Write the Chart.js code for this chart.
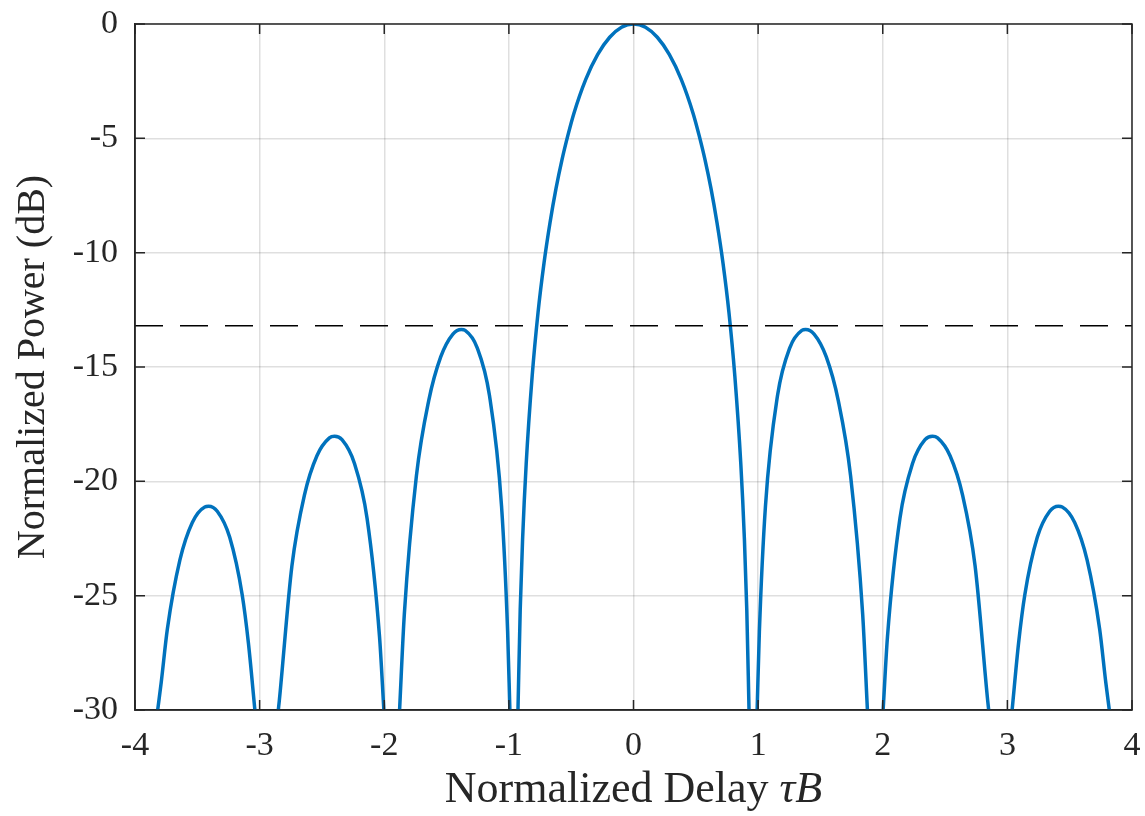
<!DOCTYPE html>
<html>
<head>
<meta charset="utf-8">
<script src="https://cdn.jsdelivr.net/npm/chart.js@4.4.1/dist/chart.umd.min.js"></script>
<style>
  html,body{margin:0;padding:0;background:#fff;}
  #wrap{width:1145px;height:816px;}
</style>
</head>
<body>
<div id="wrap"><canvas id="chart" width="1145" height="816"></canvas></div>
<script>
// delay (tau*B) and normalized power (dB); null = gap below -30 dB
const delay=[
  -3.818,-3.790,-3.740,-3.640,-3.540,-3.440,-3.410,-3.340,-3.240,-3.140,-3.090,-3.038,
  -2.94,
  -2.850,-2.842,-2.741,-2.641,-2.540,-2.440,-2.399,-2.339,-2.239,-2.138,-2.038,-2.003,
  -1.94,
  -1.877,-1.839,-1.742,-1.644,-1.547,-1.449,-1.381,-1.351,-1.254,-1.156,-1.059,-1.010,-0.992,
  -0.96,
  -0.927,-0.909,-0.890,-0.861,-0.813,-0.766,-0.718,-0.670,-0.622,-0.574,-0.526,-0.479,-0.383,-0.287,-0.191,-0.096,
  0,
  0.096,0.191,0.287,0.383,0.479,0.526,0.574,0.622,0.670,0.718,0.766,0.813,0.861,0.890,0.909,0.927,
  0.96,
  0.992,1.010,1.059,1.156,1.254,1.351,1.381,1.449,1.547,1.644,1.742,1.839,1.877,
  1.94,
  2.003,2.038,2.138,2.239,2.339,2.399,2.440,2.540,2.641,2.741,2.842,2.850,
  2.94,
  3.038,3.090,3.140,3.240,3.340,3.410,3.440,3.540,3.640,3.740,3.790,3.818
];
const power=[
  -30,-28.81,-26.45,-23.45,-21.80,-21.12,-21.09,-21.31,-22.45,-24.96,-27.07,-30,
  null,
  -30,-29.59,-23.70,-20.61,-18.88,-18.10,-18.03,-18.18,-19.22,-21.61,-26.79,-30,
  null,
  -30,-25.82,-19.76,-16.49,-14.56,-13.56,-13.36,-13.40,-14.16,-16.24,-21.07,-26.58,-30,
  null,
  -30,-25.61,-22.54,-19.23,-15.39,-12.62,-10.45,-8.69,-7.20,-5.94,-4.86,-3.92,-2.42,-1.33,-0.58,-0.14,
  0,
  -0.14,-0.58,-1.33,-2.42,-3.92,-4.86,-5.94,-7.20,-8.69,-10.45,-12.62,-15.39,-19.23,-22.54,-25.61,-30,
  null,
  -30,-26.58,-21.07,-16.24,-14.16,-13.40,-13.36,-13.56,-14.56,-16.49,-19.76,-25.82,-30,
  null,
  -30,-26.79,-21.61,-19.22,-18.18,-18.03,-18.10,-18.88,-20.61,-23.70,-29.59,-30,
  null,
  -30,-27.07,-24.96,-22.45,-21.31,-21.09,-21.12,-21.80,-23.45,-26.45,-28.81,-30
];
const sidelobeLevel=-13.2;
const xTicks=[-4,-3,-2,-1,0,1,2,3,4];
const yTicks=[-30,-25,-20,-15,-10,-5,0];

const axisColor="#262626";
const serif="'Liberation Serif', 'Times New Roman', serif";

// inward ticks on all four sides, full box, x title with italic tau B
const matlabAxes={
  id:"matlabAxes",
  afterDraw(chart){
    const c=chart.ctx, a=chart.chartArea;
    const xs=chart.scales.x, ys=chart.scales.y;
    c.save();
    c.strokeStyle=axisColor;
    c.lineWidth=1.5;
    c.beginPath();
    xTicks.forEach(v=>{
      const px=xs.getPixelForValue(v);
      c.moveTo(px,a.bottom); c.lineTo(px,a.bottom-10);
      c.moveTo(px,a.top); c.lineTo(px,a.top+10);
    });
    yTicks.forEach(v=>{
      const py=ys.getPixelForValue(v);
      c.moveTo(a.left,py); c.lineTo(a.left+10,py);
      c.moveTo(a.right,py); c.lineTo(a.right-10,py);
    });
    c.stroke();
    c.strokeRect(a.left,a.top,a.right-a.left,a.bottom-a.top);

    const part1="Normalized Delay ", part2="τB";
    const f1="44px "+serif, f2="italic 44px "+serif;
    c.font=f1; const w1=c.measureText(part1).width;
    c.font=f2; const w2=c.measureText(part2).width;
    let x0=(a.left+a.right)/2-(w1+w2)/2;
    c.fillStyle=axisColor;
    c.textBaseline="alphabetic";
    c.textAlign="left";
    c.font=f1; c.fillText(part1,x0,802);
    c.font=f2; c.fillText(part2,x0+w1,802);
    c.restore();
  }
};

new Chart(document.getElementById("chart"),{
  type:"line",
  data:{
    datasets:[
      {
        data:delay.map((d,i)=>({x:d,y:power[i]})),
        borderColor:"#0072BD",
        borderWidth:3.5,
        pointRadius:0,
        cubicInterpolationMode:"monotone",
        spanGaps:false,
        order:2
      },
      {
        data:[{x:-4,y:sidelobeLevel},{x:4,y:sidelobeLevel}],
        borderColor:"#000000",
        borderWidth:1.5,
        borderDash:[28,17],
        pointRadius:0,
        order:1
      }
    ]
  },
  options:{
    responsive:false,
    animation:false,
    events:[],
    layout:{padding:{top:24,right:13,left:0,bottom:0}},
    plugins:{legend:{display:false},tooltip:{enabled:false}},
    scales:{
      x:{
        type:"linear",
        min:-4,max:4,
        afterFit(s){s.height=106;s.paddingLeft=0;s.paddingRight=0;},
        afterBuildTicks(s){s.ticks=xTicks.map(v=>({value:v}));},
        ticks:{color:axisColor,font:{family:serif,size:34},padding:16,maxRotation:0},
        grid:{color:"rgba(38,38,38,0.15)",lineWidth:1.5,drawTicks:false},
        border:{color:axisColor,width:1.5}
      },
      y:{
        min:-30,max:0,
        afterFit(s){s.width=135;s.paddingTop=0;s.paddingBottom=0;},
        afterBuildTicks(s){s.ticks=yTicks.map(v=>({value:v}));},
        ticks:{color:axisColor,font:{family:serif,size:34},padding:17},
        grid:{color:"rgba(38,38,38,0.15)",lineWidth:1.5,drawTicks:false},
        border:{color:axisColor,width:1.5},
        title:{display:true,text:"Normalized Power (dB)",color:axisColor,font:{family:serif,size:40},padding:{top:9,bottom:0}}
      }
    }
  },
  plugins:[matlabAxes]
});
</script>
</body>
</html>
